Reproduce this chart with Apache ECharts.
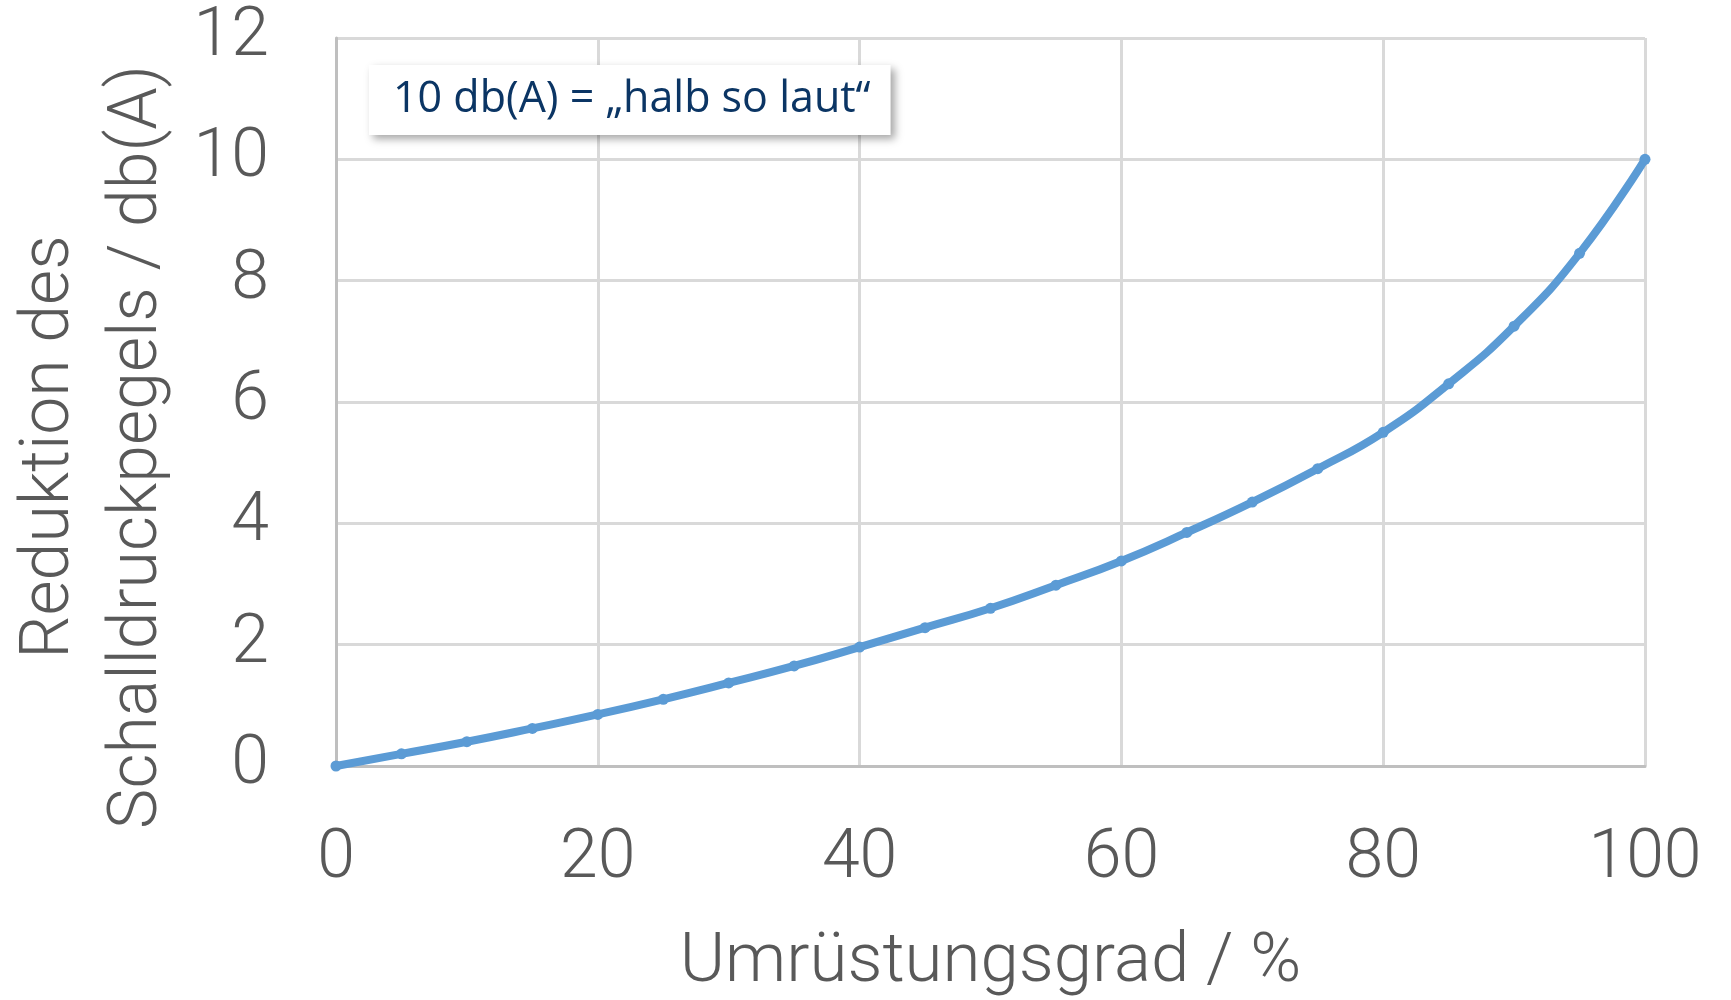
<!DOCTYPE html>
<html>
<head>
<meta charset="utf-8">
<script src="https://cdn.jsdelivr.net/npm/echarts@6/dist/echarts.min.js"></script>
<style>
  html, body { margin: 0; padding: 0; background: #fff; }
  #chart { width: 1731px; height: 1000px; }
</style>
</head>
<body>
<div id="chart"></div>
<script>
// Umrüstungsgrad in %, Reduktion in db(A)
const umruestung = [0, 5, 10, 15, 20, 25, 30, 35, 40, 45, 50, 55, 60, 65, 70, 75, 80, 85, 90, 95, 100]
const reduktion = [0, 0.2, 0.4, 0.62, 0.85, 1.1, 1.37, 1.65, 1.96, 2.28, 2.6, 2.98, 3.38, 3.85, 4.35, 4.9, 5.5, 6.3, 7.25, 8.45, 10]

const xTicks = [0, 20, 40, 60, 80, 100]
const yTicks = [0, 2, 4, 6, 8, 10, 12]

const noteText = '10 db(A) = „halb so laut“'
const xTitle = 'Umrüstungsgrad / %'
const yTitle = 'Reduktion des\nSchalldruckpegels / db(A)'

const chart = echarts.init(document.getElementById('chart'))

const textGrey = '#595959'
const lineBlue = '#5b9bd5'

chart.setOption({
  animation: false,
  title: {
    text: noteText,
    left: 369,
    top: 65,
    padding: [10, 20, 10, 24],
    backgroundColor: '#fff',
    shadowColor: 'rgba(0, 0, 0, 0.35)',
    shadowBlur: 8,
    shadowOffsetX: 4,
    shadowOffsetY: 4,
    textStyle: {
      fontFamily: 'Open Sans',
      fontWeight: 'normal',
      fontSize: 43,
      lineHeight: 50,
      color: '#0b3564'
    },
    z: 10
  },
  grid: {
    left: 336,
    right: 86,
    top: 38,
    bottom: 234,
    outerBoundsMode: 'none',
    containLabel: false
  },
  xAxis: {
    type: 'value',
    min: xTicks[0],
    max: xTicks[xTicks.length - 1],
    interval: xTicks[1] - xTicks[0],
    name: xTitle,
    nameLocation: 'middle',
    nameGap: 163,
    nameTextStyle: {
      fontFamily: 'Roboto',
      fontWeight: 300,
      fontSize: 69,
      color: textGrey
    },
    axisLine: { show: true, lineStyle: { color: '#bfbfbf', width: 3 } },
    axisTick: { show: false },
    axisLabel: {
      margin: 60,
      fontFamily: 'Roboto',
      fontWeight: 300,
      fontSize: 68,
      color: textGrey
    },
    splitLine: { show: true, lineStyle: { color: '#d9d9d9', width: 3 } }
  },
  yAxis: {
    type: 'value',
    min: yTicks[0],
    max: yTicks[yTicks.length - 1],
    interval: yTicks[1] - yTicks[0],
    name: yTitle,
    nameLocation: 'middle',
    nameGap: 142,
    nameTextStyle: {
      fontFamily: 'Roboto',
      fontWeight: 300,
      fontSize: 68,
      lineHeight: 88,
      color: textGrey,
      padding: [0, 90, 0, 0]
    },
    axisLine: { show: true, lineStyle: { color: '#bfbfbf', width: 3 } },
    axisTick: { show: false },
    axisLabel: {
      margin: 67,
      fontFamily: 'Roboto',
      fontWeight: 300,
      fontSize: 68,
      color: textGrey
    },
    splitLine: { show: true, lineStyle: { color: '#d9d9d9', width: 3 } }
  },
  series: [
    {
      type: 'line',
      data: umruestung.map((x, i) => [x, reduktion[i]]),
      smooth: true,
      symbol: 'circle',
      symbolSize: 11,
      showSymbol: true,
      lineStyle: { color: lineBlue, width: 8 },
      itemStyle: { color: lineBlue }
    }
  ]
})
</script>
</body>
</html>
